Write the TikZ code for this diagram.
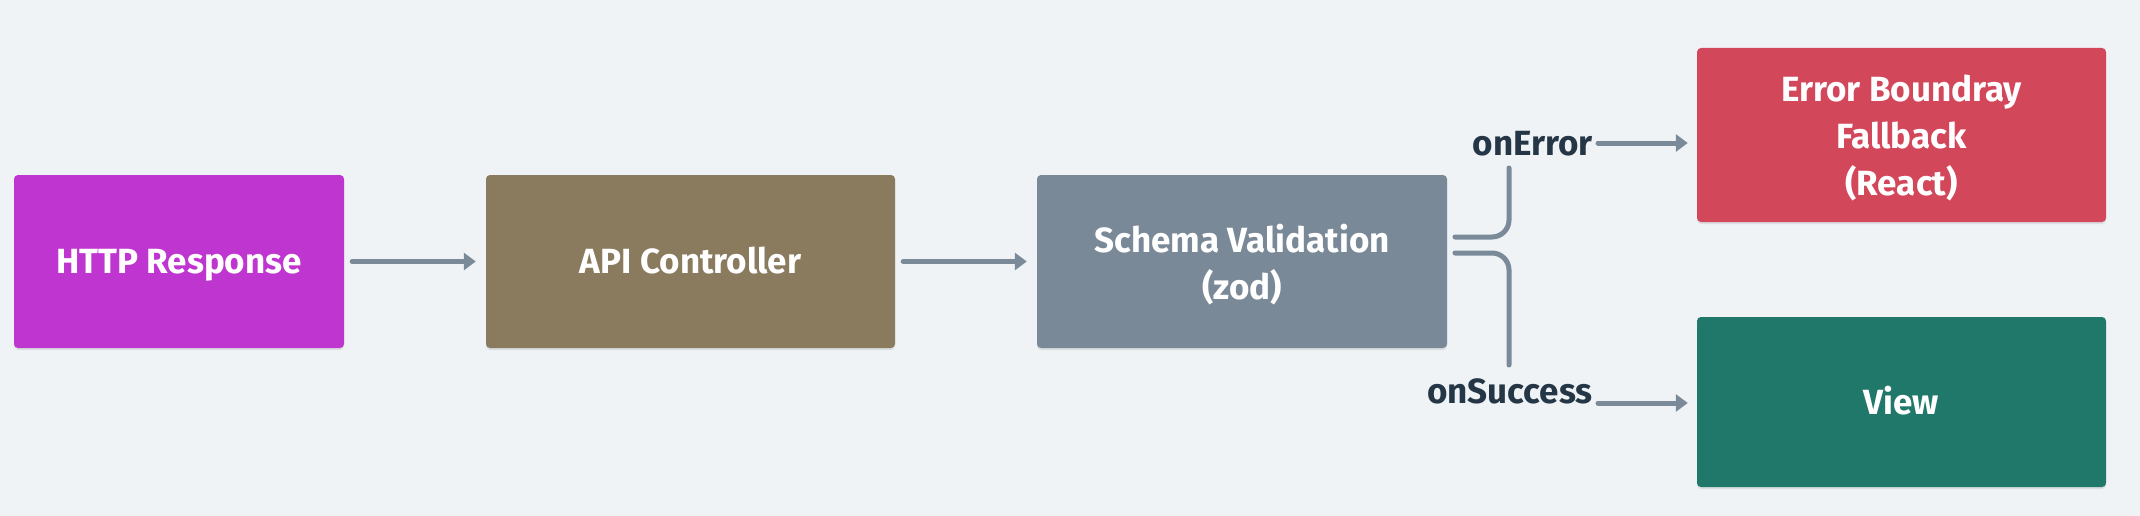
\documentclass[tikz,border=0pt]{standalone}
\usepackage{fontspec}
\setmainfont{Fira Sans}
\usetikzlibrary{arrows.meta,shadows}
\definecolor{bg}{HTML}{EFF3F6}
\definecolor{httpc}{HTML}{BF35D0}
\definecolor{apic}{HTML}{8A7A5E}
\definecolor{schemac}{HTML}{7A8997}
\definecolor{errc}{HTML}{D3475B}
\definecolor{viewc}{HTML}{20786A}
\definecolor{linec}{HTML}{7A8A99}
\definecolor{labc}{HTML}{253746}
\tikzset{
  box/.style={rectangle, rounded corners=4pt, draw=none, text=white,
    font=\fontsize{35}{47}\selectfont\bfseries, align=center,
    inner sep=0pt, minimum height=173pt, text depth=0pt,
    drop shadow={opacity=0.18, shadow xshift=0pt, shadow yshift=-2pt}},
  conn/.style={draw=linec, line width=5pt, line cap=round},
  arr/.style={conn, -{Triangle[length=12pt,width=17pt]}},
  lab/.style={text=labc, font=\fontsize{35}{47}\selectfont\bfseries, inner sep=0pt},
}
\begin{document}
\begin{tikzpicture}[x=1pt,y=-1pt]
\useasboundingbox[fill=bg] (0,0) rectangle (2140,516);
\node[box, fill=httpc, minimum width=330pt, text height=24pt] (http) at (179,261.5) {HTTP Response};
\node[box, fill=apic, minimum width=409pt, text height=24pt] (api) at (690.5,261.5) {API Controller};
\node[box, fill=schemac, minimum width=410pt] (schema) at (1242,261.5) {Schema Validation\\(zod)};
\node[box, fill=errc, minimum width=409pt, minimum height=174pt] (err) at (1901.5,135) {Error Boundray\\Fallback\\(React)};
\node[box, fill=viewc, minimum width=409pt, minimum height=170pt, text height=24pt] (view) at (1901.5,402) {View};
\node[lab, anchor=base east] (onerr) at (1593,155) {onError};
\node[lab, anchor=base east] (onsucc) at (1593,403) {onSuccess};
\coordinate (e1) at (1455,237);
\coordinate (e2) at (1509,168);
\coordinate (s1) at (1455,253);
\coordinate (s2) at (1509,365);
\draw[arr] ([xshift=8pt]http.east) -- ([xshift=-10pt]api.west);
\draw[arr] ([xshift=8pt]api.east) -- ([xshift=-10pt]schema.west);
\draw[conn, rounded corners=17pt] (e1) -| (e2);
\draw[conn, rounded corners=17pt] (s1) -| (s2);
\draw[arr] ([xshift=5pt]onerr.east |- 0,143) -- ([xshift=-9pt]err.west |- 0,143);
\draw[arr] ([xshift=5pt]onsucc.east |- 0,403) -- ([xshift=-9pt]view.west |- 0,403);
\end{tikzpicture}
\end{document}
